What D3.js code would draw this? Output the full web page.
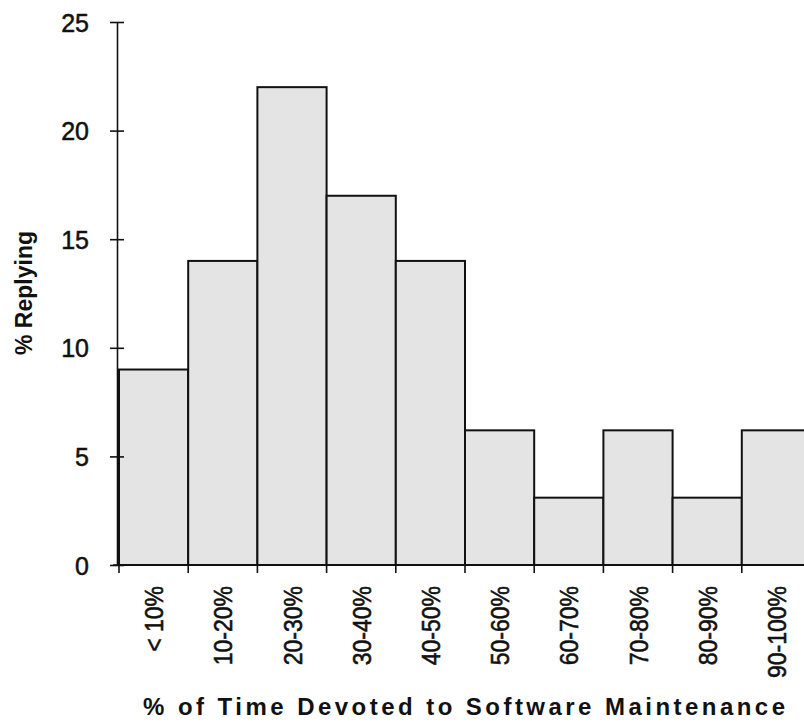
<!DOCTYPE html>
<html>
<head>
<meta charset="utf-8">
<script src="https://cdn.jsdelivr.net/npm/d3@7"></script>
<style>
  body { margin: 0; background: #fff; }
  svg { display: block; font-family: "Liberation Sans", Arial, sans-serif; }
  .y.axis .domain, .y.axis line { stroke: #111; stroke-width: 1.6px; }
  .x.axis .domain { display: none; }
  .bar { fill: #e4e4e4; stroke: #111; stroke-width: 2px; }
  .edge { stroke: #111; stroke-width: 1.6px; }
  .lbl { fill: #111; stroke: #111; stroke-width: 0.5px; }
</style>
</head>
<body>
<div id="chart"></div>
<script>
  var categories = ['< 10%', '10-20%', '20-30%', '30-40%', '40-50%',
    '50-60%', '60-70%', '70-80%', '80-90%', '90-100%'];
  var percentReplying = [9, 14, 22, 17, 14, 6.2, 3.1, 6.2, 3.1, 6.2];
  var yTicks = [0, 5, 10, 15, 20, 25];

  var width = 804;
  var height = 726;

  var x = d3.scaleBand().domain(categories).range([119, 811]).padding(0);
  var y = d3.scaleLinear().domain([0, 25]).range([565, 22]);
  var axisX = 117;

  var svg = d3.select('#chart')
    .append('svg')
    .attr('width', width)
    .attr('height', height);

  // Bars
  svg.append('g')
    .selectAll('.bar')
    .data(categories)
    .enter().append('rect')
    .attr('class', 'bar')
    .attr('x', function(d) { return x(d); })
    .attr('y', function(d, i) { return y(percentReplying[i]); })
    .attr('width', x.bandwidth())
    .attr('height', function(d, i) { return y(0) - y(percentReplying[i]); });

  // Baseline and category edge ticks
  svg.append('line')
    .attr('class', 'edge')
    .attr('x1', axisX - 4)
    .attr('x2', x.range()[1])
    .attr('y1', y(0))
    .attr('y2', y(0));

  var edges = categories.map(function(d) { return x(d); }).concat([x.range()[1]]);
  svg.append('g')
    .selectAll('.edge-tick')
    .data(edges)
    .enter().append('line')
    .attr('class', 'edge')
    .attr('x1', function(d) { return d; })
    .attr('x2', function(d) { return d; })
    .attr('y1', y(0))
    .attr('y2', y(0) + 8);

  // x-axis labels (rotated, glyphs a bit tall like the scanned original)
  var xAxis = d3.axisBottom(x).tickSize(0);
  var gx = svg.append('g')
    .attr('class', 'x axis')
    .attr('transform', 'translate(0,' + y(0) + ')')
    .call(xAxis);
  gx.selectAll('.tick text')
    .attr('class', 'lbl')
    .attr('transform', 'rotate(-90) scale(1,1.15)')
    .attr('x', -21)
    .attr('y', 0)
    .attr('dy', '0.36em')
    .attr('text-anchor', 'end')
    .attr('font-size', 23)
    .attr('font-family', '"Liberation Sans", Arial, sans-serif');

  // y-axis
  var yAxis = d3.axisLeft(y).tickValues(yTicks).tickSizeOuter(0);
  var gy = svg.append('g')
    .attr('class', 'y axis')
    .attr('transform', 'translate(' + axisX + ',0)')
    .call(yAxis);
  gy.selectAll('.tick line')
    .attr('x1', -7)
    .attr('x2', 7);
  gy.selectAll('.tick text')
    .attr('class', 'lbl')
    .attr('x', -28)
    .attr('dy', '0.36em')
    .attr('font-size', 25)
    .attr('font-family', '"Liberation Sans", Arial, sans-serif');

  // Axis titles
  svg.append('text')
    .attr('transform', 'translate(24,293) rotate(-90)')
    .attr('text-anchor', 'middle')
    .attr('dy', '0.36em')
    .attr('font-size', 23)
    .attr('font-weight', 'bold')
    .attr('fill', '#111')
    .text('% Replying');

  svg.append('text')
    .attr('x', 143)
    .attr('y', 715)
    .attr('font-size', 24)
    .attr('font-weight', 'bold')
    .attr('fill', '#111')
    .attr('textLength', 642)
    .attr('lengthAdjust', 'spacing')
    .text('% of Time Devoted to Software Maintenance');
</script>
</body>
</html>
